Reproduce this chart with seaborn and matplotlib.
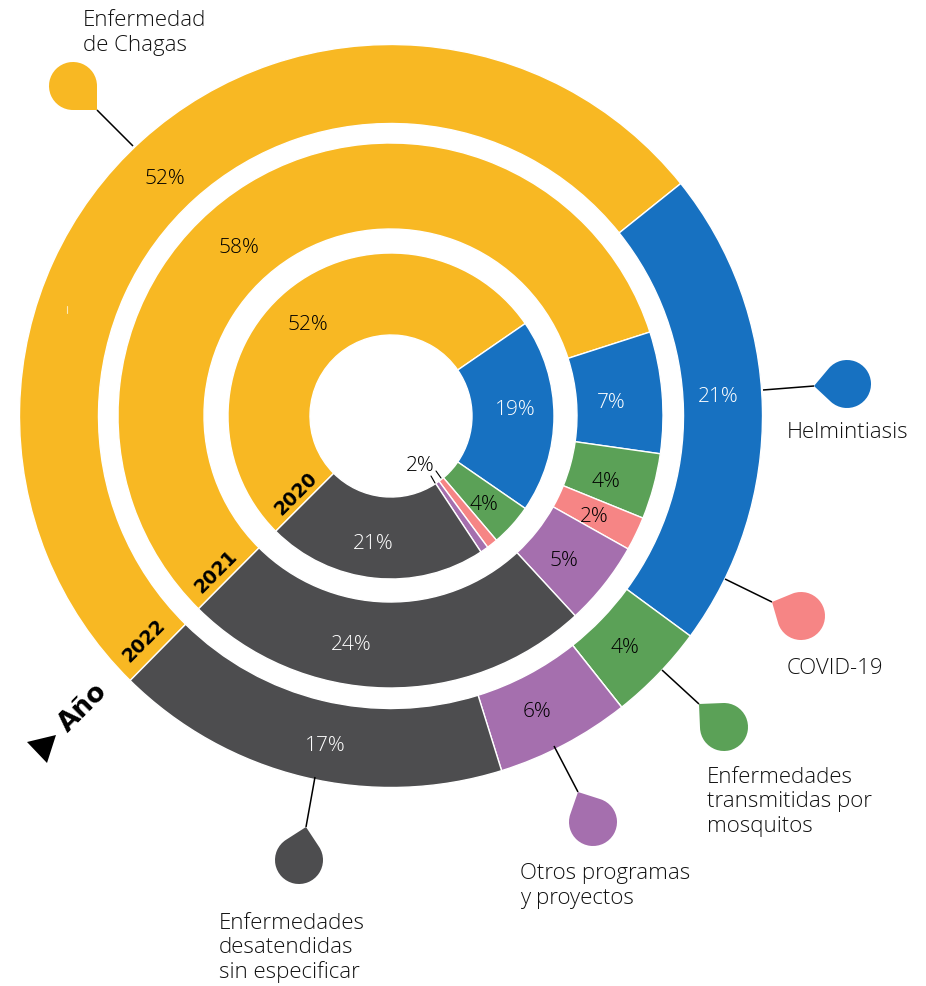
import numpy as np
import seaborn as sns
import matplotlib.pyplot as plt
from matplotlib.path import Path
from matplotlib.patches import PathPatch
from matplotlib.transforms import Affine2D

W, H = 926, 986

# order is clockwise from the year labels
categories = ["Enfermedad de Chagas", "Helmintiasis", "Enfermedades transmitidas por mosquitos",
              "COVID-19", "Otros programas y proyectos", "Enfermedades desatendidas sin especificar"]
colors = ["#F8B823", "#1771C1", "#5BA157", "#F68585", "#A56FAE", "#4D4D4F"]

values_2020 = [52.9, 19.2, 4.2, 1.1, 0.8, 21.8]
values_2021 = [57.6, 7.2, 3.9, 2.0, 5.0, 24.3]
values_2022 = [51.85, 20.85, 4.25, 0.0, 5.85, 17.2]

labels_2020 = ["52%", "19%", "4%", "2%", "21%"]
labels_2021 = ["58%", "7%", "4%", "2%", "5%", "24%"]
labels_2022 = ["52%", "21%", "4%", "6%", "17%"]
years = ["2020", "2021", "2022"]

sns.set_theme(style="white")
plt.rcParams['font.family'] = ['Open Sans', 'DejaVu Sans']
palette = sns.color_palette(colors)


def py(y):
    # picture rows to axes y
    return H - y


fig = plt.figure(figsize=(W / 100, H / 100), dpi=100)
ax = fig.add_axes([0, 0, 1, 1])

rings = [(values_2020, 163, 81, 225.0, 391, 416),
         (values_2021, 272.5, 186.5, 225.2, 390.5, 415.5),
         (values_2022, 371.5, 292.5, 225.4, 391, 416)]
for vals, r_out, r_in, start, cx, cy in rings:
    ax.pie(vals, colors=palette, radius=r_out, center=(cx, py(cy)), startangle=start, counterclock=False,
           wedgeprops=dict(width=r_out - r_in, edgecolor='white', linewidth=1))
ax.set_xlim(0, W)
ax.set_ylim(0, H)
ax.set_aspect('equal')
ax.axis('off')

# percent labels
pos_2020 = [(308, 325), (515, 410), (484, 505), (420, 466), (373, 544)]
pos_2021 = [(239, 248), (611, 403), (606, 482), (594, 517), (564, 561), (351, 645)]
pos_2022 = [(165, 179), (718, 397), (625, 648), (537, 712), (325, 746)]
light_2020 = ["19%", "21%"]
light_2021 = ["7%", "24%"]
light_2022 = ["21%", "17%"]
for labs, pos, light in [(labels_2020, pos_2020, light_2020), (labels_2021, pos_2021, light_2021),
                         (labels_2022, pos_2022, light_2022)]:
    for lab, (x, y) in zip(labs, pos):
        ax.text(x, py(y), lab, ha='center', va='center', fontsize=15, fontweight='light',
                color='white' if lab in light else '#000000')


def pin(center, tip, color, end):
    # drop shape: a circle with one corner drawn out to the tip
    c = np.array([center[0], py(center[1])], dtype=float)
    t = np.array([tip[0], py(tip[1])], dtype=float)
    d = t - c
    theta = np.degrees(np.arctan2(d[1], d[0]))
    r = 24
    arc = Path.arc(theta + 45, theta + 315)
    arc = arc.transformed(Affine2D().scale(r).translate(c[0], c[1]))
    verts = np.vstack([arc.vertices, t, arc.vertices[0]])
    codes = list(arc.codes) + [Path.LINETO, Path.LINETO]
    ax.add_patch(PathPatch(Path(verts, codes), facecolor=color, edgecolor='none', zorder=3))
    ax.plot([tip[0], end[0]], [py(tip[1]), py(end[1])], color='black', lw=1.1, zorder=2,
            solid_capstyle='butt')


pin((73, 86), (97, 110), palette[0], (133, 146))
pin((847, 384), (814, 386), palette[1], (763, 390))
pin((801, 616), (772, 602), palette[3], (725, 579))
pin((724, 727), (699, 704), palette[2], (662, 670))
pin((593, 822), (578, 792), palette[4], (554, 746))
pin((299, 860), (306, 827), palette[5], (315, 777))

# category names
names = [("Enfermedad\nde Chagas", 83, 33),
         ("Helmintiasis", 787, 433),
         ("COVID-19", 787, 668),
         ("Enfermedades\ntransmitidas por\nmosquitos", 707, 802),
         ("Otros programas\ny proyectos", 520, 886),
         ("Enfermedades\ndesatendidas\nsin especificar", 219, 948)]
for txt, x, y in names:
    ax.text(x, py(y), txt, ha='left', va='center', fontsize=16, color='#111111', linespacing=1.19,
            fontweight='light')

# small leaders of the 2% label
ax.plot([431, 435], [py(476), py(483)], color='black', lw=0.8)
ax.plot([436, 441], [py(471), py(478)], color='black', lw=0.8)
# speck in the outer ring
ax.plot([67, 67], [py(306), py(313)], color='#FDE9B8', lw=0.8)

# year tags along the start line
for yr, (x, y) in zip(years, [(296, 494), (216, 572), (144, 641)]):
    ax.text(x, py(y), yr, rotation=45, rotation_mode='anchor', ha='center', va='center',
            fontsize=13.5, fontweight='bold', color='black', family='DejaVu Sans')
ax.text(83, py(708), "Año", rotation=45, rotation_mode='anchor', ha='center', va='center',
        fontsize=19, fontweight='bold', color='black', family='DejaVu Sans')
ax.fill([27, 56, 47], [py(742), py(735), py(763)], color='black', lw=0)

fig.savefig('out.png', dpi=100)
